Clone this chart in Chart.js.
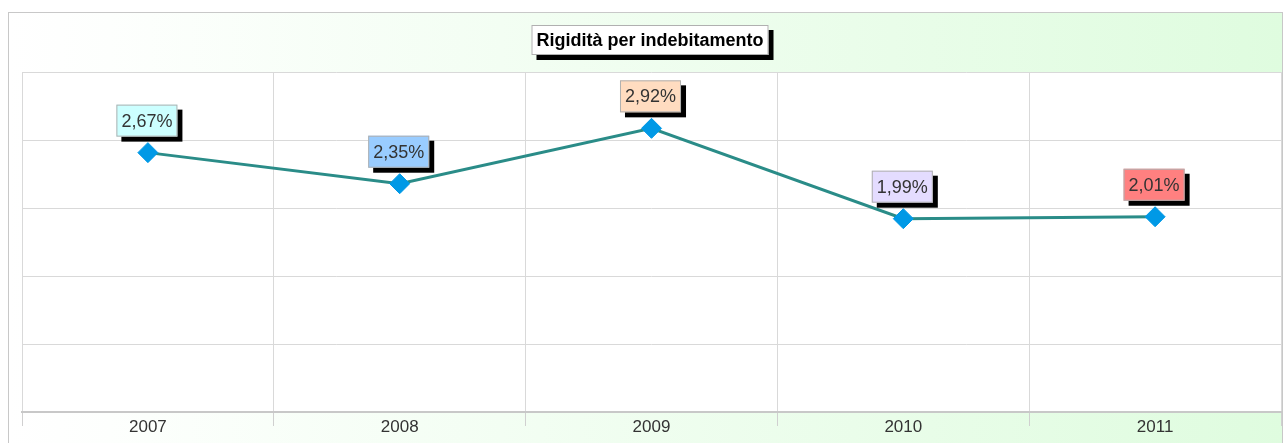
<!DOCTYPE html>
<html>
<head>
<meta charset="utf-8">
<script src="https://cdn.jsdelivr.net/npm/chart.js"></script>
<style>
html, body { margin: 0; padding: 0; background: #fff; }
</style>
</head>
<body>
<canvas id="myChart" width="1284" height="443"></canvas>
<script>
const years = ['2007', '2008', '2009', '2010', '2011'];
const rigidity = [2.67, 2.35, 2.92, 1.99, 2.01];
const labelColors = ['#ccffff', '#99ccff', '#ffdcc0', '#e4dcff', '#ff8080'];
const chartTitle = 'Rigidità per indebitamento';

const fontFamily = 'Arial, "Liberation Sans", sans-serif';

function formatValue(v) {
    return v.toFixed(2).replace('.', ',') + '%';
}

function boxWithShadow(ctx, x, y, w, h, fill) {
    ctx.fillStyle = '#000';
    ctx.fillRect(x + 5, y + 5, w, h);
    ctx.fillStyle = fill;
    ctx.fillRect(x, y, w, h);
    ctx.strokeStyle = '#b0b0b0';
    ctx.lineWidth = 1;
    ctx.strokeRect(x + 0.5, y + 0.5, w - 1, h - 1);
}

const panelPlugin = {
    id: 'panel',
    beforeDraw: function(chart) {
        const ctx = chart.ctx;
        const area = chart.chartArea;
        ctx.save();
        ctx.fillStyle = '#fff';
        ctx.fillRect(0, 0, chart.width, chart.height);
        const grad = ctx.createLinearGradient(8, 0, 1283, 0);
        grad.addColorStop(0, '#ffffff');
        grad.addColorStop(0.08, '#fdfffd');
        grad.addColorStop(1, '#dffcdf');
        ctx.fillStyle = grad;
        ctx.fillRect(8, 12, 1275, chart.height - 12);
        ctx.strokeStyle = '#c8c8c8';
        ctx.lineWidth = 1;
        ctx.strokeRect(8.5, 12.5, 1274, chart.height);
        ctx.fillStyle = '#fff';
        ctx.fillRect(area.left, area.top, area.right - area.left, area.bottom - area.top);
        ctx.restore();
    }
};

const labelsPlugin = {
    id: 'boxLabels',
    afterDraw: function(chart) {
        const ctx = chart.ctx;
        ctx.save();

        // title box
        ctx.font = 'bold 18px ' + fontFamily;
        const tw = ctx.measureText(chartTitle).width;
        const tx = 650 - tw / 2 - 5;
        boxWithShadow(ctx, tx, 25, tw + 10, 30, '#fff');
        ctx.fillStyle = '#000';
        ctx.textAlign = 'center';
        ctx.textBaseline = 'middle';
        ctx.fillText(chartTitle, 650, 41);

        // value labels
        ctx.font = '18px ' + fontFamily;
        const points = chart.getDatasetMeta(0).data;
        points.forEach(function(pt, i) {
            const text = formatValue(rigidity[i]);
            const w = ctx.measureText(text).width + 10;
            const h = 32;
            const bx = pt.x - w / 2 - 1;
            const by = pt.y - 16 - h;
            boxWithShadow(ctx, bx, by, w, h, labelColors[i]);
            ctx.fillStyle = '#333';
            ctx.textAlign = 'center';
            ctx.textBaseline = 'middle';
            ctx.fillText(text, bx + w / 2, by + h / 2 + 1);
        });
        ctx.restore();
    }
};

const ctx = document.getElementById('myChart').getContext('2d');
const myChart = new Chart(ctx, {
    type: 'line',
    data: {
        labels: years,
        datasets: [{
            label: chartTitle,
            data: rigidity,
            borderColor: '#2a8c88',
            borderWidth: 3,
            backgroundColor: 'transparent',
            pointStyle: 'rectRot',
            pointRadius: 10,
            pointHoverRadius: 10,
            pointBackgroundColor: '#0099e6',
            pointBorderColor: '#0099e6',
            pointBorderWidth: 1,
            tension: 0,
            clip: false
        }]
    },
    options: {
        responsive: false,
        animation: false,
        devicePixelRatio: 1,
        layout: {
            autoPadding: false,
            padding: { left: 22, right: 3, top: 72, bottom: 0 }
        },
        plugins: {
            legend: { display: false },
            title: { display: false },
            tooltip: { enabled: false }
        },
        scales: {
            x: {
                offset: true,
                grid: {
                    offset: true,
                    color: '#d9d9d9',
                    tickColor: '#d0d0d0',
                    tickLength: 14
                },
                border: { color: '#c8c8c8', width: 2 },
                ticks: {
                    color: '#333',
                    padding: -9,
                    font: { size: 17, family: fontFamily }
                },
                afterFit: function(scale) {
                    scale.height = 31;
                    scale.paddingLeft = 0;
                    scale.paddingRight = 0;
                }
            },
            y: {
                min: 0,
                max: 3.5,
                ticks: { display: false, count: 6 },
                grid: { color: '#d9d9d9', drawTicks: false },
                border: { display: false }
            }
        }
    },
    plugins: [panelPlugin, labelsPlugin]
});
</script>
</body>
</html>
